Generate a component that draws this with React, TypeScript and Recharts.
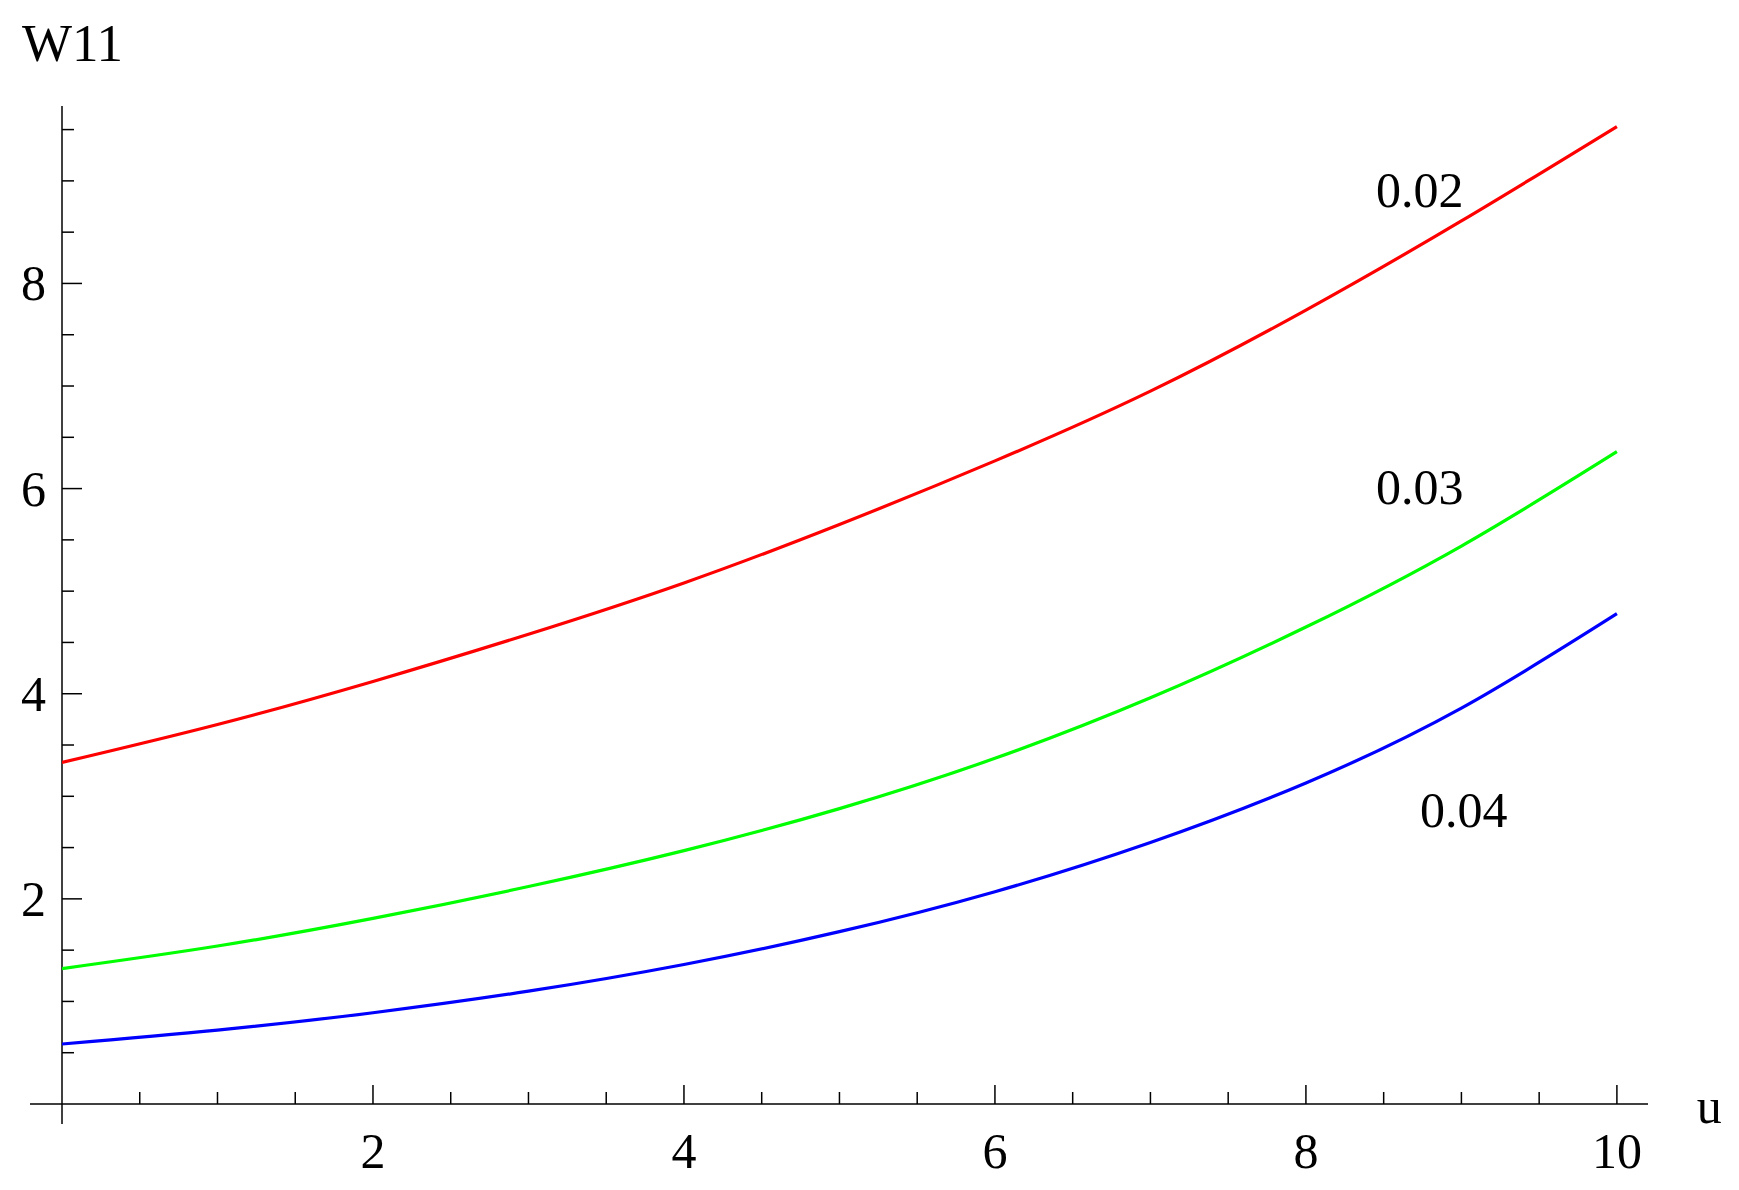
import React from 'react';
import { LineChart, Line, XAxis, YAxis, ReferenceLine, ReferenceDot } from 'recharts';

// values (u = 0..10)
const uValues = [0, 1, 2, 3, 4, 5, 6, 7, 8, 9, 10];
const w002 = [3.33, 3.70, 4.12, 4.58, 5.08, 5.65, 6.27, 6.95, 7.74, 8.61, 9.53];
const w003 = [1.32, 1.54, 1.81, 2.12, 2.47, 2.88, 3.37, 3.96, 4.65, 5.44, 6.36];
const w004 = [0.585, 0.72, 0.89, 1.10, 1.36, 1.68, 2.07, 2.55, 3.13, 3.86, 4.78];

const xTicks = [0.5, 1, 1.5, 2, 2.5, 3, 3.5, 4, 4.5, 5, 5.5, 6, 6.5, 7, 7.5, 8, 8.5, 9, 9.5, 10];
const yTicks = [0.5, 1, 1.5, 2, 2.5, 3, 3.5, 4, 4.5, 5, 5.5, 6, 6.5, 7, 7.5, 8, 8.5, 9, 9.5];
const majorLabels = [2, 4, 6, 8, 10];

// curve labels: [text, u, W]
const curveLabels: [string, number, number][] = [
  ['0.02', 8.45, 8.745],
  ['0.03', 8.45, 5.85],
  ['0.04', 8.733, 2.7],
];

const FONT = '"Liberation Serif", "Times New Roman", serif';

const data = uValues.map((u, i) => ({ u, a: w002[i], b: w003[i], c: w004[i] }));

const XTick = (props: any) => {
  const { x, y, payload } = props;
  const major = majorLabels.includes(payload.value);
  return (
    <g>
      <line x1={x} x2={x} y1={y} y2={y - (major ? 19 : 12)} stroke="#000" strokeWidth={1.5} />
      {major && (
        <text x={x} y={y + 64} textAnchor="middle" fontSize={50} fontFamily={FONT} fill="#000">
          {payload.value}
        </text>
      )}
    </g>
  );
};

const YTick = (props: any) => {
  const { x, y, payload } = props;
  const major = majorLabels.includes(payload.value);
  return (
    <g>
      <line x1={x} x2={x + (major ? 20 : 12)} y1={y} y2={y} stroke="#000" strokeWidth={1.5} />
      {major && (
        <text x={x - 16} y={y + 17} textAnchor="end" fontSize={50} fontFamily={FONT} fill="#000">
          {payload.value}
        </text>
      )}
    </g>
  );
};

const textDot = (label: string, size: number) => (props: any) => (
  <text x={props.cx} y={props.cy} fontSize={size} fontFamily={FONT} fill="#000">
    {label}
  </text>
);

const App: React.FC = () => {
  return (
    <div style={{ width: 1739, height: 1190, background: '#fff' }}>
      <style>{'body{margin:0}'}</style>
      <LineChart
        width={1739}
        height={1190}
        data={data}
        margin={{ top: 106, right: 91, bottom: 46, left: 22 }}
      >
        <XAxis
          dataKey="u"
          type="number"
          domain={[0, 10.2]}
          allowDataOverflow
          ticks={xTicks}
          interval={0}
          axisLine={false}
          tickLine={false}
          tickSize={0}
          tickMargin={0}
          height={40}
          tick={<XTick />}
        />
        <YAxis
          type="number"
          domain={[0, 9.73]}
          allowDataOverflow
          ticks={yTicks}
          interval={0}
          axisLine={false}
          tickLine={false}
          tickSize={0}
          tickMargin={0}
          width={40}
          tick={<YTick />}
        />
        <ReferenceLine
          segment={[{ x: -0.206, y: 0 }, { x: 10.2, y: 0 }]}
          stroke="#000"
          strokeWidth={1.5}
          ifOverflow="visible"
        />
        <ReferenceLine
          segment={[{ x: 0, y: -0.195 }, { x: 0, y: 9.73 }]}
          stroke="#000"
          strokeWidth={1.5}
          ifOverflow="visible"
        />
        <Line type="natural" dataKey="a" stroke="#ff0000" strokeWidth={3.2} dot={false} isAnimationActive={false} />
        <Line type="natural" dataKey="b" stroke="#00ff00" strokeWidth={3.2} dot={false} isAnimationActive={false} />
        <Line type="natural" dataKey="c" stroke="#0000ff" strokeWidth={3.2} dot={false} isAnimationActive={false} />
        {curveLabels.map(([t, u, w]) => (
          <ReferenceDot key={t} x={u} y={w} r={0} shape={textDot(t, 50)} ifOverflow="visible" />
        ))}
        <ReferenceDot x={-0.257} y={10.17} r={0} shape={textDot('W11', 53)} ifOverflow="visible" />
        <ReferenceDot x={10.514} y={-0.185} r={0} shape={textDot('u', 50)} ifOverflow="visible" />
      </LineChart>
    </div>
  );
};

export default App;
